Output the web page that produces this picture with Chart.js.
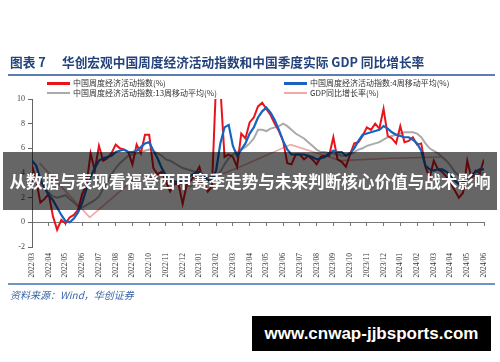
<!DOCTYPE html>
<html>
<head>
<meta charset="utf-8">
<script src="https://cdn.jsdelivr.net/npm/chart.js@4"></script>
<style>
  body { margin: 0; background: #fff; }
  #wrap { position: relative; width: 500px; height: 362px; overflow: hidden; font-family: 'Noto Sans CJK SC', sans-serif; }
  #chart { position: absolute; left: 0; top: 0; }
  .abs { position: absolute; white-space: nowrap; }
  .title { top: 52px; font-size: 12.7px; font-weight: 700; color: #24437c; line-height: 20px; }
  .rule { left: 8px; width: 487px; }
  .lg { font-size: 8px; color: #333; line-height: 10px; display: flex; align-items: center; }
  .lg i { display: inline-block; width: 23px; margin-right: 3px; }
  .banner { left: 3px; top: 152px; width: 494px; height: 58px; background: rgba(0,0,0,0.6); color: #fff;
            font-size: 16.6px; font-weight: 700; line-height: 58px; text-align: center; }
  .url { left: 252px; top: 316px; width: 239px; height: 35px; background: #000; color: #fff;
         font-family: 'Liberation Sans', Arial, sans-serif; font-size: 17px; font-weight: 700; line-height: 35px; text-align: center; }
</style>
</head>
<body>
<div id="wrap">
  <canvas id="chart" width="500" height="362"></canvas>

  <div class="abs title" style="left:10px">图表 7</div>
  <div class="abs title" style="left:62px">华创宏观中国周度经济活动指数和中国季度实际 GDP 同比增长率</div>
  <div class="abs rule" style="top:74px;height:2px;background:#5b7db1"></div>

  <div class="abs lg" style="left:47px;top:78px"><i style="height:3px;background:#e8141c"></i>中国周度经济活动指数(%)</div>
  <div class="abs lg" style="left:47px;top:88px"><i style="height:2px;background:#aaa"></i>中国周度经济活动指数:13周移动平均(%)</div>
  <div class="abs lg" style="left:284px;top:78px"><i style="height:3px;background:#1565c0"></i>中国周度经济活动指数:4周移动平均(%)</div>
  <div class="abs lg" style="left:284px;top:88px"><i style="height:1.5px;background:#f0a8a8"></i>GDP同比增长率(%)</div>

  <div class="abs rule" style="top:283px;height:2px;background:#6f93c4"></div>
  <div class="abs" style="left:10px;top:287px;font-size:10px;font-style:italic;color:#3a64a8">资料来源：Wind，华创证券</div>

  <div class="abs banner">从数据与表现看福登西甲赛季走势与未来判断核心价值与战术影响</div>
  <div class="abs url">www.cnwap-jjbsports.com</div>
</div>

<script>
// month ticks, 2022/03 .. 2024/06
const monthLabels = [
  '2022/03', '2022/04', '2022/05', '2022/06', '2022/07', '2022/08', '2022/09', '2022/10',
  '2022/11', '2022/12', '2023/01', '2023/02', '2023/03', '2023/04', '2023/05', '2023/06',
  '2023/07', '2023/08', '2023/09', '2023/10', '2023/11', '2023/12', '2024/01', '2024/02',
  '2024/03', '2024/04', '2024/05', '2024/06'
];

// weekly values, one every quarter month from 2022/03
const weeklyIndex = [
  4.6, 3.4, 1.6, 1.9, 2.3, 0.5, -0.6, 0.2, -0.1, 0.4,
  0.6, 1.0, 2.3, 3.0, 5.6, 4.2, 6.2, 5.0, 5.2, 5.6,
  6.3, 6.0, 5.9, 5.7, 4.7, 6.3, 5.6, 7.1, 7.1, 4.4,
  3.9, 4.1, 3.3, 2.5, 3.1, 3.1, 1.5, 3.1, 3.4, 3.9,
  4.5, 3.3, 2.5, 2.9, 11.5, 11.0, 5.3, 5.5, 5.3, 4.5,
  7.2, 6.8, 8.1, 8.5, 9.4, 9.7, 9.2, 8.7, 8.0, 7.4,
  6.6, 4.8, 4.7, 5.5, 5.5, 5.1, 5.4, 5.1, 4.7, 5.3,
  5.4, 5.4, 6.9, 5.1, 4.9, 4.5, 5.5, 6.4, 6.5, 7.0,
  7.7, 7.5, 8.0, 7.6, 9.2, 7.0, 6.8, 6.4, 7.8, 6.5,
  6.6, 6.9, 6.3, 6.4, 4.5, 3.6, 5.0, 4.3, 4.1, 3.7,
  3.2, 2.6, 2.0, 2.4, 5.0, 3.6, 4.2, 4.0, 5.1
];
const ma4 = [
  5.0, 4.6, 3.5, 2.8, 2.2, 1.8, 1.2, 0.6, 0.1, 0.0,
  0.3, 0.8, 1.6, 2.7, 3.7, 4.4, 5.0, 5.2, 5.3, 5.4,
  5.7, 5.8, 5.9, 5.7, 5.7, 5.8, 6.1, 6.4, 6.5, 5.8,
  5.2, 4.4, 3.8, 3.4, 3.3, 3.3, 3.3, 3.5, 3.8, 4.0,
  4.1, 3.8, 3.4, 3.4, 4.2, 6.4, 7.7, 7.9, 6.2, 5.4,
  5.9, 6.4, 7.2, 7.7, 8.5, 9.0, 9.3, 8.9, 8.3, 7.5,
  6.6, 5.9, 5.5, 5.5, 5.5, 5.5, 5.4, 5.3, 5.1, 5.2,
  5.3, 5.6, 5.8, 5.7, 5.7, 5.4, 5.6, 6.0, 6.6, 7.1,
  7.2, 7.3, 7.4, 7.5, 7.8, 7.6, 7.3, 7.1, 7.0, 6.9,
  6.9, 6.7, 6.4, 5.8, 4.6, 4.3, 4.2, 4.3, 4.3, 4.1,
  3.8, 3.4, 3.1, 3.3, 3.5, 3.8, 4.1, 4.3, 4.3
];
const ma13 = [
  3.9, 3.6, 3.2, 2.8, 2.4, 2.1, 2.0, 2.1, 2.2, 1.9,
  1.6, 1.3, 1.2, 1.4, 1.6, 1.8, 2.1, 2.7, 3.3, 3.9,
  4.4, 4.8, 5.1, 5.4, 5.5, 5.6, 5.7, 5.8, 5.9, 5.8,
  5.6, 5.4, 5.1, 5.0, 4.8, 4.6, 4.4, 4.3, 4.2, 4.1,
  3.9, 3.8, 3.7, 3.7, 3.8, 4.1, 4.7, 5.2, 5.5, 5.7,
  5.9, 6.1, 6.4, 6.8, 7.5, 7.5, 7.4, 7.6, 7.7, 7.8,
  8.0, 7.8, 7.5, 7.2, 7.0, 6.8, 6.5, 6.2, 5.9, 5.7,
  5.7, 5.6, 5.6, 5.5, 5.4, 5.4, 5.5, 5.7, 5.9, 6.0,
  6.2, 6.3, 6.4, 6.5, 6.7, 6.9, 7.0, 7.1, 7.2, 7.3,
  7.3, 7.3, 7.2, 6.9, 6.4, 6.0, 5.8, 5.6, 5.3, 5.0,
  4.6, 4.1, 3.8, 3.6, 3.6, 3.7, 3.8, 3.9, 4.0
];

// quarterly GDP, 2022Q1 .. 2024Q1, placed in months from 2022/03
const gdpMonths = [0.45, 3.45, 6.45, 9.45, 12.45, 15.45, 18.45, 21.45, 24.45];
const gdpGrowth = [4.8, 0.4, 3.9, 2.9, 4.5, 6.3, 5.0, 5.2, 5.3];

const weekly = (arr) => arr.map((v, i) => ({ x: i / 4, y: v }));

const serif = 'Liberation Serif, Times New Roman, serif';

new Chart(document.getElementById('chart'), {
  type: 'line',
  data: {
    datasets: [
      { label: '中国周度经济活动指数:4周移动平均(%)', data: weekly(ma4), borderColor: '#1565c0', borderWidth: 2.2 },
      { label: '中国周度经济活动指数(%)', data: weekly(weeklyIndex), borderColor: '#e8141c', borderWidth: 2 },
      { label: '中国周度经济活动指数:13周移动平均(%)', data: weekly(ma13), borderColor: '#aaaaaa', borderWidth: 2 },
      { label: 'GDP同比增长率(%)', data: gdpMonths.map((m, i) => ({ x: m, y: gdpGrowth[i] })), borderColor: '#f0a8a8', borderWidth: 1.6 }
    ]
  },
  options: {
    responsive: false,
    animation: false,
    events: [],
    elements: { point: { radius: 0 }, line: { tension: 0 } },
    layout: { padding: { top: 99, right: 16, bottom: 75, left: 0 } },
    plugins: { legend: { display: false }, tooltip: { enabled: false } },
    scales: {
      x: {
        type: 'linear', min: 0, max: 27,
        afterFit: (s) => { s.height = 40; },
        grid: { display: false, drawTicks: false },
        border: { display: false },
        ticks: {
          stepSize: 1, autoSkip: false, minRotation: 90, maxRotation: 90, padding: 6,
          color: '#333', font: { family: serif, size: 7.5 },
          callback: (v) => monthLabels[v]
        }
      },
      x2: {
        type: 'linear', min: 0, max: 27, position: { y: 0 },
        grid: { drawOnChartArea: false, tickLength: 3, color: '#777' },
        border: { color: '#777' },
        ticks: { stepSize: 1, display: false }
      },
      y: {
        min: -2, max: 10,
        afterFit: (s) => { s.width = 32; },
        grid: { drawOnChartArea: false, tickLength: 4, color: '#666' },
        border: { color: '#666' },
        ticks: { stepSize: 2, padding: 3, color: '#444', font: { family: serif, size: 8 } }
      }
    }
  }
});
</script>
</body>
</html>
